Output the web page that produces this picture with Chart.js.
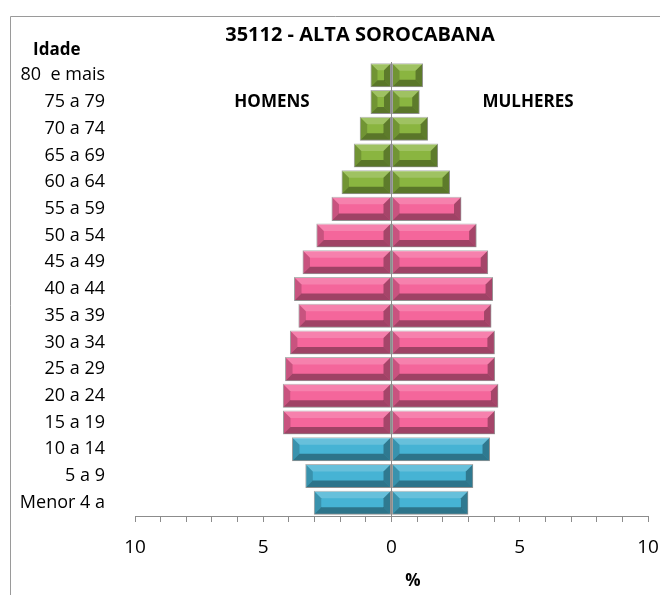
<!DOCTYPE html>
<html>
<head>
<meta charset="utf-8">
<script src="https://cdn.jsdelivr.net/npm/chart.js@4/dist/chart.umd.min.js"></script>
<style>
  body { margin: 0; background: #fff; }
  #wrap { width: 660px; height: 595px; position: relative; }
</style>
</head>
<body>
<div id="wrap"><canvas id="pyramid"></canvas></div>
<script>
// ─── DATA ────────────────────────────────────────────────────────────────────

const faixas = ["80  e mais", "75 a 79", "70 a 74", "65 a 69", "60 a 64", "55 a 59",
                "50 a 54", "45 a 49", "40 a 44", "35 a 39", "30 a 34", "25 a 29",
                "20 a 24", "15 a 19", "10 a 14", "5 a 9", "Menor 4 a"];
const homens   = [0.82, 0.82, 1.24, 1.47, 1.95, 2.34, 2.93, 3.47, 3.80, 3.63, 3.96, 4.15, 4.24, 4.23, 3.88, 3.36, 3.03];
const mulheres = [1.23, 1.10, 1.43, 1.82, 2.28, 2.73, 3.32, 3.77, 3.96, 3.90, 4.03, 4.04, 4.17, 4.04, 3.84, 3.19, 3.00];
// age group of each row: idosos / adultos / jovens
const grupos   = ["i", "i", "i", "i", "i", "a", "a", "a", "a", "a", "a", "a", "a", "a", "j", "j", "j"];
const xTicks   = [-10, -5, 0, 5, 10];

const corGrupo = { i: "#8ab540", a: "#f4669b", j: "#46b3d4" };
const barColors = grupos.map(g => corGrupo[g]);

const FONT = "'Open Sans', 'Noto Sans', sans-serif";

// ─── PLUGINS ─────────────────────────────────────────────────────────────────

// thin frame around the chart (cut off on the right/bottom like the original)
const frame = {
    id: "frame",
    beforeDraw(chart) {
        const ctx = chart.ctx;
        ctx.save();
        ctx.strokeStyle = "#9a9a9a";
        ctx.lineWidth = 1;
        ctx.beginPath();
        ctx.moveTo(10.5, chart.height);
        ctx.lineTo(10.5, 16.5);
        ctx.lineTo(chart.width, 16.5);
        ctx.stroke();
        ctx.restore();
    }
};

// bevel effect on every bar, using the bar geometry from the library
const bevel = {
    id: "bevel",
    afterDatasetsDraw(chart) {
        const ctx = chart.ctx;
        function poly(pts, fill) {
            ctx.beginPath();
            ctx.moveTo(pts[0][0], pts[0][1]);
            for (let k = 1; k < pts.length; k++) ctx.lineTo(pts[k][0], pts[k][1]);
            ctx.closePath();
            ctx.fillStyle = fill;
            ctx.fill();
        }
        ctx.save();
        chart.data.datasets.forEach((ds, i) => {
            chart.getDatasetMeta(i).data.forEach(bar => {
                const p = bar.getProps(["x", "y", "base", "height"], true);
                const l = Math.min(p.x, p.base) + 0.5, r = Math.max(p.x, p.base) - 0.5;
                const t = p.y - p.height / 2 + 0.5, b = p.y + p.height / 2 - 0.5;
                const d = Math.min(7, (r - l) / 3, p.height / 3);
                poly([[l, t], [r, t], [r - d, t + d], [l + d, t + d]], "rgba(255,255,255,0.18)");
                poly([[l, b], [r, b], [r - d, b - d], [l + d, b - d]], "rgba(0,0,0,0.35)");
                poly([[l, t], [l + d, t + d], [l + d, b - d], [l, b]], "rgba(0,0,0,0.18)");
                poly([[r, t], [r - d, t + d], [r - d, b - d], [r, b]], "rgba(0,0,0,0.32)");
            });
        });
        ctx.restore();
    }
};

// free texts: title, side labels, axis captions
const labels = {
    id: "labels",
    afterDraw(chart) {
        const ctx = chart.ctx;
        ctx.save();
        ctx.fillStyle = "#000";
        ctx.textBaseline = "middle";
        ctx.textAlign = "center";
        ctx.font = `bold 20px ${FONT}`;
        ctx.fillText("35112 - ALTA SOROCABANA", 360, 35);
        ctx.font = `bold 17px ${FONT}`;
        ctx.fillText("HOMENS", 272, 102);
        ctx.fillText("MULHERES", 528, 102);
        ctx.fillText("%", 413, 581);
        ctx.textAlign = "left";
        ctx.fillText("Idade", 33, 50);
        ctx.restore();
    }
};

// ─── CHART ───────────────────────────────────────────────────────────────────

new Chart(document.getElementById("pyramid"), {
    type: "bar",
    data: {
        labels: faixas,
        datasets: [
            {
                label: "Homens",
                data: homens.map(v => -v),
                backgroundColor: barColors,
                borderColor: "rgba(110,110,110,0.55)",
                borderWidth: 1,
                borderSkipped: false,
                categoryPercentage: 0.9,
                barPercentage: 1
            },
            {
                label: "Mulheres",
                data: mulheres,
                backgroundColor: barColors,
                borderColor: "rgba(110,110,110,0.55)",
                borderWidth: 1,
                borderSkipped: false,
                categoryPercentage: 0.9,
                barPercentage: 1
            }
        ]
    },
    options: {
        indexAxis: "y",
        responsive: true,
        maintainAspectRatio: false,
        animation: false,
        layout: { padding: { top: 62, left: 10, right: 12, bottom: 6 } },
        plugins: { legend: { display: false }, tooltip: { enabled: false } },
        scales: {
            x: {
                stacked: true,
                min: -10,
                max: 10,
                z: 1,
                afterFit: s => { s.height = 73; s.paddingLeft = 0; s.paddingRight = 0; },
                afterBuildTicks: s => {
                    s.ticks = [];
                    for (let v = -10; v <= 10; v++) s.ticks.push({ value: v });
                },
                ticks: {
                    autoSkip: false,
                    maxRotation: 0,
                    padding: 14,
                    color: "#000",
                    font: { family: FONT, size: 19 },
                    callback: v => xTicks.includes(v) ? Math.abs(v) : ""
                },
                grid: {
                    drawOnChartArea: true,
                    color: c => (c.tick && c.tick.value === 0) ? "#8c8c8c" : "rgba(0,0,0,0)",
                    tickColor: "#8c8c8c",
                    tickLength: 6,
                    lineWidth: 1
                },
                border: { color: "#8c8c8c", width: 1 }
            },
            y: {
                stacked: true,
                afterFit: s => { s.width = 125; s.paddingTop = 0; s.paddingBottom = 0; },
                ticks: {
                    padding: 22,
                    color: "#000",
                    font: { family: FONT, size: 18 }
                },
                grid: { display: false },
                border: { display: false }
            }
        }
    },
    plugins: [frame, bevel, labels]
});
</script>
</body>
</html>
